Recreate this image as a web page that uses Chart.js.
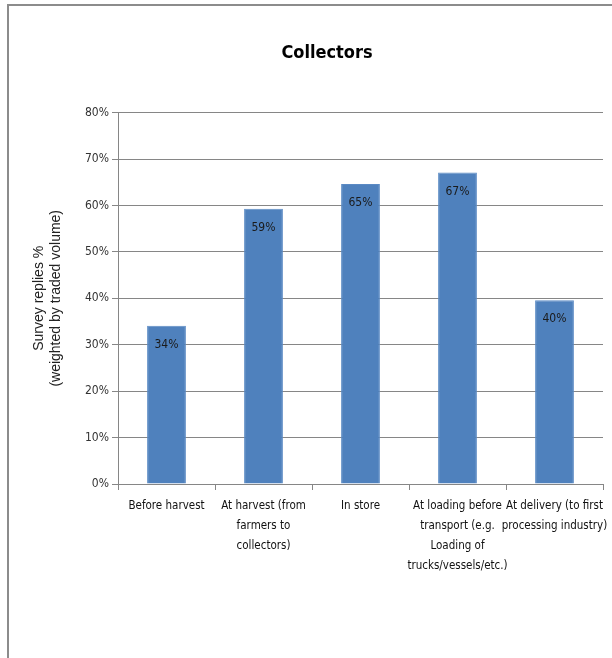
<!DOCTYPE html>
<html>
<head>
<meta charset="utf-8">
<script src="https://cdn.jsdelivr.net/npm/chart.js@4"></script>
<style>
  body { margin: 0; background: #fff; }
  #frame {
    position: absolute; left: 7px; top: 4px;
    width: 605px; height: 654px;
    border-top: 2px solid #8c8c8c; border-left: 2px solid #8c8c8c;
  }
  canvas { display: block; }
</style>
</head>
<body>
<div id="frame"><canvas id="collectorsChart" width="603" height="652"></canvas></div>
<script>
// Collectors chart data
const stages = [
  ["Before harvest"],
  ["At harvest (from", "farmers to", "collectors)"],
  ["In store"],
  ["At loading before", "transport (e.g.", "Loading of", "trucks/vessels/etc.)"],
  ["At delivery (to first", "processing industry)"]
];
const replies = [34.1, 59.3, 64.6, 67.1, 39.6];
const replyLabels = ["34%", "59%", "65%", "67%", "40%"];

const narrow = "'DejaVu Sans Condensed', 'Liberation Sans', Arial, sans-serif";

// draws the value text inside the top of each bar
const barLabels = {
  id: "barLabels",
  afterDatasetsDraw(chart) {
    const ctx = chart.ctx;
    const meta = chart.getDatasetMeta(0);
    ctx.save();
    ctx.font = "12px " + narrow;
    ctx.fillStyle = "#1a1a1a";
    ctx.textAlign = "center";
    ctx.textBaseline = "middle";
    meta.data.forEach((bar, i) => {
      ctx.fillText(replyLabels[i], bar.x, bar.y + 19);
    });
    ctx.restore();
  }
};

new Chart(document.getElementById("collectorsChart").getContext("2d"), {
  type: "bar",
  data: {
    labels: stages,
    datasets: [{
      data: replies,
      backgroundColor: "#4f81bd",
      borderColor: "#5b8ac4",
      borderWidth: 1,
      barPercentage: 0.4,
      categoryPercentage: 1
    }]
  },
  options: {
    responsive: false,
    animation: false,
    layout: { padding: { left: 42, right: 9, top: 0, bottom: 0 } },
    plugins: {
      legend: { display: false },
      tooltip: { enabled: false },
      title: {
        display: true,
        text: "Collectors",
        color: "#000",
        font: { family: narrow, size: 18, weight: "bold" },
        padding: { top: 37, bottom: 48 }
      }
    },
    scales: {
      x: {
        afterFit(scale) {
          scale.height = 174;
          scale.paddingRight = 0; // last label may spill past the axis end
        },
        grid: {
          offset: true,
          drawOnChartArea: false,
          drawTicks: true,
          tickLength: 6,
          color: "#868686"
        },
        border: { color: "#868686" },
        ticks: {
          color: "#111",
          font: { family: narrow, size: 11.5, lineHeight: 1.74 },
          padding: 6,
          maxRotation: 0,
          autoSkip: false
        }
      },
      y: {
        min: 0,
        max: 80,
        afterFit(scale) { scale.width = 67; },
        grid: { color: "#868686", tickLength: 6 },
        border: { color: "#868686" },
        ticks: {
          stepSize: 10,
          color: "#333",
          font: { family: narrow, size: 12 },
          padding: 3,
          callback: v => v + "%"
        },
        title: {
          display: true,
          text: ["Survey replies %", "(weighted by traded volume)"],
          color: "#222",
          font: { family: "'Liberation Sans', Arial, sans-serif", size: 14 },
          padding: -20
        }
      }
    }
  },
  plugins: [barLabels]
});
</script>
</body>
</html>
